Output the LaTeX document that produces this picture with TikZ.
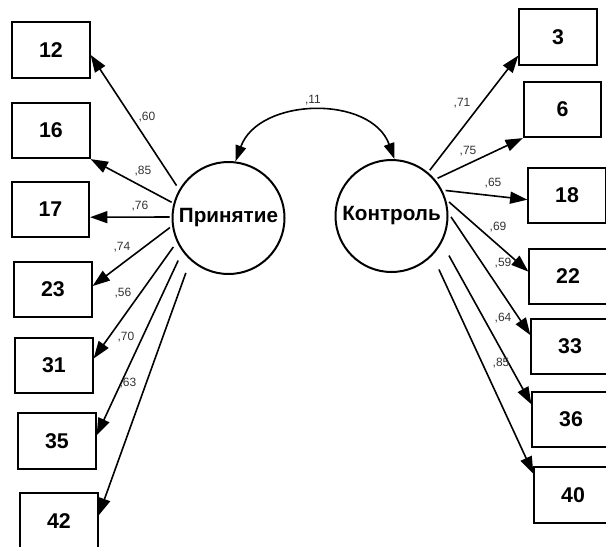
\documentclass[tikz,border=0pt]{standalone}
\usepackage{fontspec}
\setmainfont{Liberation Sans}
\usetikzlibrary{arrows.meta}

\begin{document}
\begin{tikzpicture}[x=0.75pt,y=0.75pt,
item/.style ={rectangle, draw=black, line width=1.4pt,
  minimum width=58pt, minimum height=41.5pt, inner sep=0pt,
  font=\fontsize{16}{19}\selectfont\bfseries
},
factor/.style ={circle, draw=black, line width=1.5pt,
  minimum size=84pt, inner sep=0pt,
  font=\fontsize{15.5}{18}\selectfont\bfseries
},
coef/.style ={inner sep=0pt, text=black!80,
  font=\fontsize{9}{10}\selectfont
},
conn/.style ={line width=1.2pt, -{Triangle[length=13pt,width=9pt]}}
]
\useasboundingbox (0,0) rectangle (606,-546);

% latent factors
\node (acc) at (228.5,-218) [factor] {Принятие};
\node (ctrl) at (391.5,-216) [factor] {Контроль};

% items of the first factor
\node (b12) at (51,-50) [item] {12};
\node (b16) at (51,-130.5) [item] {16};
\node (b17) at (50.5,-209.5) [item] {17};
\node (b23) at (53,-289.5) [item] {23};
\node (b31) at (54,-365.5) [item] {31};
\node (b35) at (57,-441) [item] {35};
\node (b42) at (59,-521) [item] {42};

% items of the second factor
\node (b3) at (558,-37) [item] {3};
\node (b6) at (562.5,-109.5) [item] {6};
\node (b18) at (567,-195.5) [item] {18};
\node (b22) at (568,-276.5) [item] {22};
\node (b33) at (570,-346.5) [item] {33};
\node (b36) at (571,-419.5) [item] {36};
\node (b40) at (573,-495) [item] {40};

% covariance
\draw[line width=1.2pt, {Triangle[length=12pt,width=8pt]}-{Triangle[length=12pt,width=8pt]}]
  (acc.83) to[out=70,in=110,looseness=1.1] (ctrl.87);
\node at (313,-100) [coef] {,11};

% loadings
\draw[conn, shorten <=3.5pt] (acc.150.7) -- (b12.-7);
\draw[conn, shorten <=1.5pt] (acc.165) -- (b16.south east);
\draw[conn, shorten <=1.5pt] (acc.179) -- (b17.-11);
\draw[conn, shorten <=2pt] (acc.188.7) -- (b23.5);
\draw[conn, shorten <=4.5pt] (acc.205.5) -- (b31.10.6);
\draw[conn, shorten <=7.5pt] (acc.216.8) -- (b35.8.5);
\draw[conn, shorten <=10pt] (acc.228.2) -- (b42.8.5);

\draw[conn, shorten <=2pt] (ctrl.50.1) -- (b3.205);
\draw[conn, shorten <=2pt] (ctrl.40.6) -- (b6.south west);
\draw[conn, shorten <=2.5pt] (ctrl.27.6) -- (b18.186.6);
\draw[conn, shorten <=3pt] (ctrl.17.1) -- (b22.173.4);
\draw[conn, shorten <=3.5pt] (ctrl.3.7) -- (b33.164);
\draw[conn, shorten <=11pt] (ctrl.-28.2) -- (b36.159);
\draw[conn, shorten <=11.5pt] (ctrl.-44.7) -- (b40.152.9);

\node at (147,-117) [coef] {,60};
\node at (143,-171) [coef] {,85};
\node at (140,-206) [coef] {,76};
\node at (122,-247) [coef] {,74};
\node at (123,-293) [coef] {,56};
\node at (126,-337) [coef] {,70};
\node at (128,-383) [coef] {,63};

\node at (462,-103) [coef] {,71};
\node at (468,-151) [coef] {,75};
\node at (493,-183) [coef] {,65};
\node at (498,-227) [coef] {,69};
\node at (503,-263) [coef] {,59};
\node at (503,-318) [coef] {,64};
\node at (501,-363) [coef] {,85};
\end{tikzpicture}
\end{document}
